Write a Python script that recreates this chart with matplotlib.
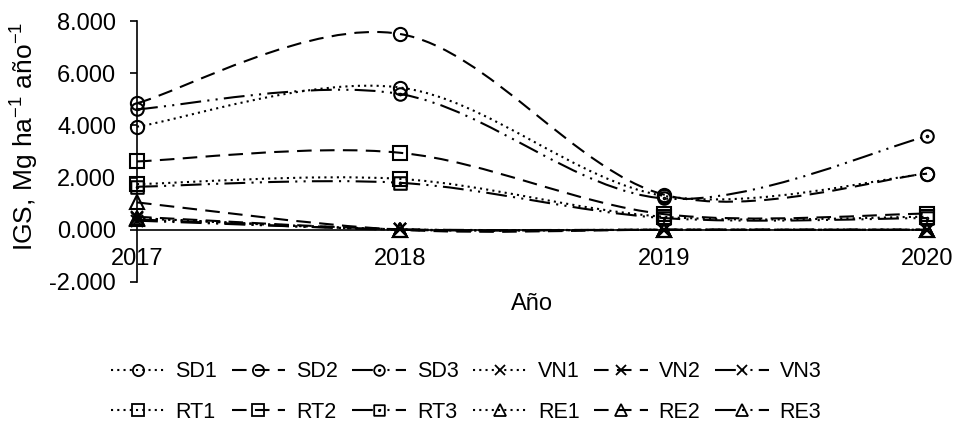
import numpy as np
import matplotlib
matplotlib.use("Agg")
import matplotlib.pyplot as plt
from matplotlib.path import Path
from matplotlib.patches import PathPatch
from matplotlib.lines import Line2D

plt.rcParams['font.family'] = ['Liberation Sans', 'DejaVu Sans']

years = [2017, 2018, 2019, 2020]
series_names = ["SD1", "SD2", "SD3", "VN1", "VN2", "VN3",
                "RT1", "RT2", "RT3", "RE1", "RE2", "RE3"]

SD1 = [3.95, 5.45, 1.30, 2.15]
SD2 = [4.85, 7.50, 1.35, 2.15]
SD3 = [4.62, 5.20, 1.20, 3.58]
VN1 = [0.45, 0.02, 0.00, 0.00]
VN2 = [0.50, 0.02, 0.00, 0.00]
VN3 = [0.35, 0.02, 0.00, 0.00]
RT1 = [1.75, 1.95, 0.50, 0.50]
RT2 = [2.62, 2.95, 0.60, 0.62]
RT3 = [1.65, 1.80, 0.45, 0.45]
RE1 = [0.45, 0.00, 0.00, 0.00]
RE2 = [1.05, 0.00, 0.00, 0.00]
RE3 = [0.40, 0.00, 0.00, 0.00]

y_ticks = [-2, 0, 2, 4, 6, 8]

values = dict(SD1=SD1, SD2=SD2, SD3=SD3, VN1=VN1, VN2=VN2, VN3=VN3,
              RT1=RT1, RT2=RT2, RT3=RT3, RE1=RE1, RE2=RE2, RE3=RE3)

def dotted_marker(base):
    small = Path.unit_circle()
    small = Path(small.vertices * 0.12, small.codes)
    return Path.make_compound_path(base, small)

sq = Path([(-1, -1), (1, -1), (1, 1), (-1, 1), (-1, -1)],
          [Path.MOVETO, Path.LINETO, Path.LINETO, Path.LINETO, Path.CLOSEPOLY])
circ_dot = dotted_marker(Path.unit_circle())
sq_dot = dotted_marker(sq)

dotted = (0, (1, 2))
dashed = (0, (7, 4))
ldd = (0, (10, 3, 1, 3, 1, 3))

styles = {
    "SD1": (dotted, 'o', 9.5), "SD2": (dashed, 'o', 9.5), "SD3": (ldd, circ_dot, 9.0),
    "VN1": (dotted, 'x', 9.0), "VN2": (dashed, 'x', 9.0), "VN3": (ldd, 'x', 9.0),
    "RT1": (dotted, 's', 10.0), "RT2": (dashed, 's', 10.0), "RT3": (ldd, sq_dot, 9.0),
    "RE1": (dotted, '^', 9.5), "RE2": (dashed, '^', 9.5), "RE3": (ldd, '^', 9.5),
}

W, H = 954, 425
fig = plt.figure(figsize=(W / 100, H / 100), dpi=100)
ax = fig.add_axes([137 / W, 1 - 282 / H, (927 - 137) / W, (282 - 21) / H])

def smooth_path(x, y):
    pts = np.column_stack([x, y]).astype(float)
    n = len(pts)
    verts = [pts[0]]
    codes = [Path.MOVETO]
    for i in range(n - 1):
        p0 = pts[i - 1] if i > 0 else pts[i]
        p1 = pts[i]
        p2 = pts[i + 1]
        p3 = pts[i + 2] if i + 2 < n else pts[i + 1]
        c1 = p1 + (p2 - p0) / 6.0
        c2 = p2 - (p3 - p1) / 6.0
        verts += [c1, c2, p2]
        codes += [Path.CURVE4] * 3
    return Path(verts, codes)

lw = 1.5
handles = {}
for name in series_names:
    ls, mk, ms = styles[name]
    y = values[name]
    patch = PathPatch(smooth_path(years, y), fill=False, edgecolor='black',
                      linewidth=lw, linestyle=ls, clip_on=False, zorder=3)
    ax.add_patch(patch)
    ax.plot(years, y, linestyle='none', marker=mk, markersize=ms,
            markerfacecolor='none', markeredgecolor='black',
            markeredgewidth=1.5, clip_on=False, zorder=4)
    handles[name] = Line2D([], [], color='black', linewidth=lw, linestyle=ls,
                           marker=mk, markersize=ms * 0.85, markerfacecolor='none',
                           markeredgecolor='black', markeredgewidth=1.3)

ax.set_xlim(2017, 2020)
ax.set_ylim(-2, 8)
ax.set_xticks(years)
ax.set_xticklabels([str(v) for v in years])
ax.set_yticks(y_ticks)
ax.set_yticklabels([f"{v:.3f}" for v in y_ticks])

for s in ['top', 'right']:
    ax.spines[s].set_visible(False)
ax.spines['bottom'].set_position(('data', 0))
ax.spines['left'].set_linewidth(1.2)
ax.spines['bottom'].set_linewidth(1.2)
ax.tick_params(axis='x', length=0, pad=13, labelsize=17)
ax.tick_params(axis='y', length=5, width=1.2, direction='out', labelsize=17, pad=10)
ax.patch.set_visible(False)

fig.text(24 / W, 1 - 136 / H, "IGS, Mg ha$^{\\mathregular{-1}}$ año$^{\\mathregular{-1}}$",
         rotation=90, ha='center', va='center', fontsize=19)
fig.text(532 / W, 1 - 304 / H, "Año", ha='center', va='center', fontsize=17)

row1 = series_names[:6]
row2 = series_names[6:]
order = []
for a, b in zip(row1, row2):
    order += [a, b]
fig.legend([handles[n] for n in order], order, loc='center', ncol=6,
           bbox_to_anchor=(466 / W, 1 - 392 / H), frameon=False, fontsize=15.5,
           handlelength=2.5, handletextpad=0.5, columnspacing=0.67,
           labelspacing=0.9)

fig.savefig("out.png", dpi=100)
